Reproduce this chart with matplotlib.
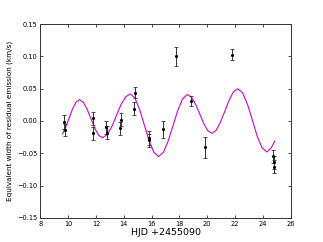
import matplotlib
matplotlib.use('Agg')
import matplotlib.pyplot as plt
from matplotlib.ticker import FuncFormatter

# measured residual emission equivalent widths
obs_hjd = [9.73, 9.80, 11.77, 11.80, 12.75, 12.80, 13.78, 13.75, 14.79, 14.75,
           15.78, 15.80, 16.80, 17.75, 18.85, 19.83, 21.80, 24.75, 24.78, 24.80]
obs_ew = [-0.002, -0.014, 0.004, -0.019, -0.010, -0.018, 0.002, -0.011, 0.044, 0.019,
          -0.026, -0.030, -0.013, 0.100, 0.031, -0.041, 0.103, -0.055, -0.064, -0.071]
obs_err = [0.011, 0.010, 0.010, 0.010, 0.010, 0.010, 0.010, 0.010, 0.008, 0.010,
           0.011, 0.010, 0.013, 0.014, 0.008, 0.016, 0.008, 0.010, 0.010, 0.010]

# model curve
fit_hjd = [9.60, 9.80, 10.06, 10.31, 10.56, 10.81,
           11.09, 11.36, 11.64, 11.91, 12.19, 12.46,
           12.79, 13.13, 13.46, 13.79, 14.13, 14.46,
           14.80, 15.14, 15.48, 15.82, 16.16, 16.50,
           16.85, 17.19, 17.54, 17.89, 18.23, 18.58,
           18.87, 19.16, 19.46, 19.75, 20.04, 20.33,
           20.64, 20.95, 21.27, 21.58, 21.89, 22.20,
           22.55, 22.90, 23.25, 23.59, 23.94, 24.29,
           24.61, 24.85]
fit_ew = [-0.020, -0.0105, 0.004, 0.0185, 0.0291, 0.033,
          0.0291, 0.0183, 0.0035, -0.0113, -0.0221, -0.026,
          -0.0214, -0.009, 0.008, 0.025, 0.0374, 0.042,
          0.0355, 0.0178, -0.0065, -0.0308, -0.0485, -0.055,
          -0.0486, -0.031, -0.007, 0.017, 0.0346, 0.041,
          0.037, 0.026, 0.011, -0.004, -0.015, -0.019,
          -0.0144, -0.0018, 0.0155, 0.0328, 0.0454, 0.050,
          0.0434, 0.0255, 0.001, -0.0235, -0.0414, -0.048,
          -0.0414, -0.031]

x_ticks = [8, 10, 12, 14, 16, 18, 20, 22, 24, 26]
y_ticks = [-0.15, -0.10, -0.05, 0.00, 0.05, 0.10, 0.15]

fig = plt.figure(figsize=(3.23, 2.42), dpi=100)
ax = fig.add_axes([0.125, 0.1, 0.775, 0.8])

ax.plot(fit_hjd, fit_ew, color='#c814c8', linewidth=0.85)
ax.errorbar(obs_hjd, obs_ew, yerr=obs_err, fmt='k.', markersize=2.5,
            ecolor='#333333', elinewidth=0.7, capsize=1.3, capthick=0.6)

ax.set_xlim(8, 26)
ax.set_ylim(-0.15, 0.15)
ax.set_xticks(x_ticks)
ax.set_yticks(y_ticks)
ax.yaxis.set_major_formatter(FuncFormatter(lambda v, p: f'{v:.2f}'.replace('-', '\u2212')))
ax.tick_params(direction='in', length=2, width=0.5, labelsize=4.8,
               top=True, right=True, pad=2)
for sp in ax.spines.values():
    sp.set_linewidth(0.7)
    sp.set_color('#333333')

ax.set_xlabel('HJD +2455090', fontsize=6.8, labelpad=1)
ax.set_ylabel('Equivalent width of residual emission (km/s)', fontsize=5.2, labelpad=3)

plt.savefig('out.png', dpi=100)
plt.close()
